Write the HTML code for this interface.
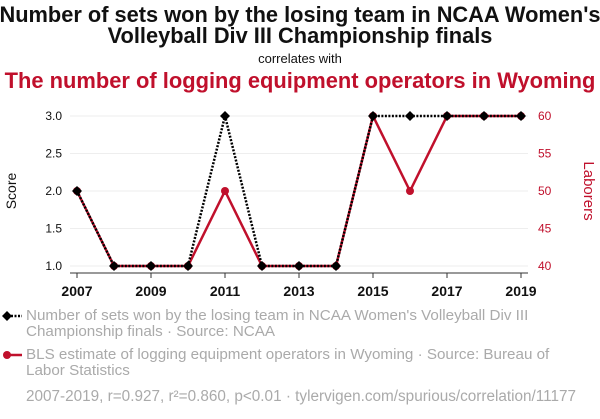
<!DOCTYPE html>
<html><head><meta charset="utf-8"><style>
body{margin:0;background:#fff;width:600px;height:414px;overflow:hidden;font-family:"Liberation Sans",Arial,sans-serif}
</style></head><body>
<svg width="600" height="414" xmlns="http://www.w3.org/2000/svg" font-family="Liberation Sans, Arial, sans-serif">
<text x="300" y="22" text-anchor="middle" font-size="21.8" font-weight="bold" fill="#111">Number of sets won by the losing team in NCAA Women's</text>
<text x="300" y="43" text-anchor="middle" font-size="21.8" font-weight="bold" fill="#111">Volleyball Div III Championship finals</text>
<text x="300" y="63" text-anchor="middle" font-size="13" fill="#111">correlates with</text>
<text x="300" y="88" text-anchor="middle" font-size="21.9" font-weight="bold" fill="#c0102c">The number of logging equipment operators in Wyoming</text>
<g id="grid"></g>
<g id="axes"></g>
<text transform="translate(16,191) rotate(-90)" text-anchor="middle" font-size="14" fill="#111">Score</text>
<text transform="translate(584,191) rotate(90)" text-anchor="middle" font-size="15" fill="#c0102c">Laborers</text>
<g id="series"></g>
<g>
<line x1="4" y1="316" x2="22" y2="316" stroke="#000" stroke-width="2.5" stroke-dasharray="2,1.5"/>
<path d="M2,316 l5,-5 l5,5 l-5,5z" fill="#000"/>
<text x="26" y="320" font-size="15.2" fill="#aaa">Number of sets won by the losing team in NCAA Women's Volleyball Div III</text>
<text x="26" y="336" font-size="15.2" fill="#aaa">Championship finals · Source: NCAA</text>
</g>
<g>
<line x1="4" y1="355" x2="22" y2="355" stroke="#c0102c" stroke-width="2.5"/>
<circle cx="7" cy="355" r="4" fill="#c0102c"/>
<text x="26" y="359" font-size="15.2" fill="#aaa">BLS estimate of logging equipment operators in Wyoming · Source: Bureau of</text>
<text x="26" y="375" font-size="15.2" fill="#aaa">Labor Statistics</text>
</g>
<text x="26" y="401" font-size="15.3" fill="#aaa">2007-2019, r=0.927, r²=0.860, p&lt;0.01 · tylervigen.com/spurious/correlation/11177</text>
</svg>
<script>
const years=[2007,2008,2009,2010,2011,2012,2013,2014,2015,2016,2017,2018,2019];
const scores=[2,1,1,1,3,1,1,1,3,3,3,3,3];
const laborers=[50,40,40,40,50,40,40,40,60,50,60,60,60];
const leftTicks=[1.0,1.5,2.0,2.5,3.0];
const rightTicks=[40,45,50,55,60];
const xTicks=[2007,2009,2011,2013,2015,2017,2019];
const NS="http://www.w3.org/2000/svg";
const x=v=>77+(v-2007)*37;
const yL=v=>266-(v-1)*75;
const yR=v=>266-(v-40)*7.5;
function mk(t,a,p){const e=document.createElementNS(NS,t);for(const k in a)e.setAttribute(k,a[k]);p.appendChild(e);return e;}
const grid=document.getElementById('grid'),axes=document.getElementById('axes'),ser=document.getElementById('series');
leftTicks.forEach(v=>{
 const l=mk('line',{x1:70,x2:528,y1:yL(v),y2:yL(v),stroke:'#eee'},grid);
 
 
 const t=mk('text',{x:62,y:yL(v)+4,'text-anchor':'end','font-size':12,fill:'#111'},axes);
 t.textContent=v.toFixed(1);
 
 
});
rightTicks.forEach(v=>{
 const t=mk('text',{x:538,y:yR(v)+4,'font-size':12,fill:'#c0102c'},axes);
 t.textContent=v;
 
 
});
const ax=mk('line',{x1:70,x2:528,y1:273,y2:273,stroke:'#333'},axes);


xTicks.forEach(v=>{
 mk('line',{x1:x(v),x2:x(v),y1:273,y2:278,stroke:'#333'},axes);
 const t=mk('text',{x:x(v),y:296,'text-anchor':'middle','font-size':14,'font-weight':'bold',fill:'#111'},axes);
 t.textContent=v;
 
 
});
const rp=mk('polyline',{points:years.map((y,i)=>x(y)+','+yR(laborers[i])).join(' '),fill:'none',stroke:'#c0102c','stroke-width':2.5},ser);


years.forEach((y,i)=>{
 const c=mk('circle',{cx:x(y),cy:yR(laborers[i]),r:4,fill:'#c0102c'},ser);
 
 
});
const bp=mk('polyline',{points:years.map((y,i)=>x(y)+','+yL(scores[i])).join(' '),fill:'none',stroke:'#000','stroke-width':2.5,'stroke-dasharray':'2,1.5'},ser);


years.forEach((y,i)=>{
 const p=mk('path',{d:`M${x(y)-5},${yL(scores[i])} l5,-5 l5,5 l-5,5z`,fill:'#000'},ser);
 
 
});
</script>
</body></html>
